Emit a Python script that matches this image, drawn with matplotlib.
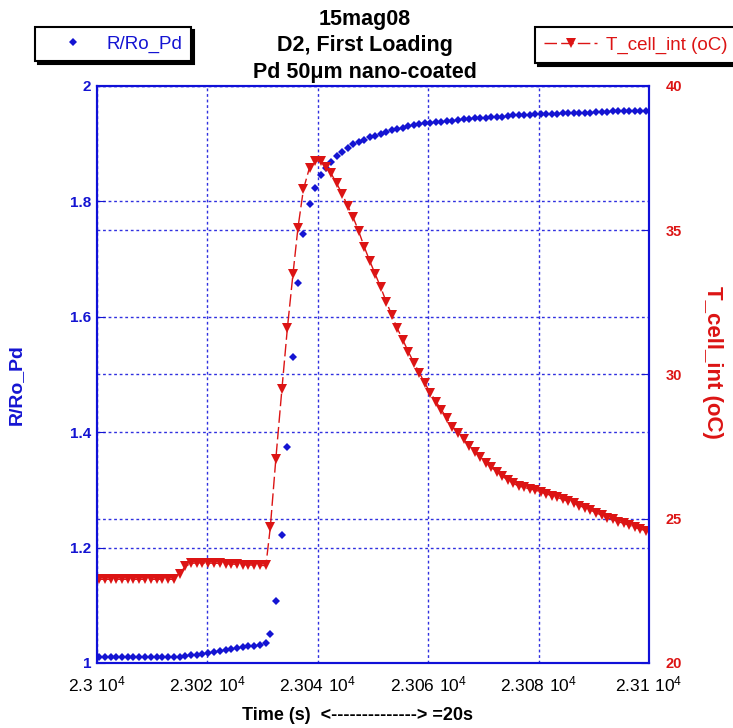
import matplotlib
matplotlib.use("Agg")
import matplotlib.pyplot as plt

plt.rcParams['font.family'] = ['Liberation Sans', 'DejaVu Sans']
plt.rcParams['mathtext.default'] = 'regular'

# time offset from 2.3e4 s
t_rel = [0.4, 1.4, 2.5, 3.5, 4.6, 5.6, 6.6, 7.7, 8.7, 9.8,
         10.8, 11.8, 12.9, 13.9, 15.0, 16.0, 17.0, 18.1, 19.1, 20.2,
         21.2, 22.2, 23.3, 24.3, 25.4, 26.4, 27.4, 28.5, 29.5, 30.6,
         31.4, 32.4, 33.5, 34.5, 35.5, 36.4, 37.4, 38.5, 39.5, 40.5,
         41.4, 42.4, 43.4, 44.4, 45.4, 46.4, 47.4, 48.4, 49.4, 50.4,
         51.4, 52.4, 53.4, 54.4, 55.4, 56.4, 57.4, 58.4, 59.4, 60.4,
         61.4, 62.4, 63.4, 64.4, 65.4, 66.4, 67.4, 68.4, 69.4, 70.4,
         71.4, 72.4, 73.4, 74.4, 75.4, 76.4, 77.4, 78.4, 79.4, 80.4,
         81.4, 82.4, 83.4, 84.4, 85.4, 86.4, 87.4, 88.4, 89.4, 90.4,
         91.4, 92.4, 93.4, 94.4, 95.4, 96.4, 97.4, 98.4, 99.4]

r_ro_pd = [1.011, 1.011, 1.011, 1.011, 1.011, 1.011, 1.011, 1.011, 1.011, 1.011,
           1.011, 1.011, 1.011, 1.011, 1.011, 1.012, 1.013, 1.014, 1.016, 1.017,
           1.019, 1.020, 1.022, 1.024, 1.026, 1.027, 1.029, 1.030, 1.031, 1.034,
           1.050, 1.108, 1.222, 1.374, 1.530, 1.659, 1.743, 1.795, 1.824, 1.845,
           1.858, 1.869, 1.879, 1.886, 1.893, 1.899, 1.903, 1.907, 1.911, 1.914,
           1.917, 1.920, 1.923, 1.926, 1.928, 1.930, 1.932, 1.934, 1.935, 1.936,
           1.937, 1.938, 1.939, 1.940, 1.941, 1.942, 1.943, 1.944, 1.944, 1.945,
           1.946, 1.947, 1.947, 1.948, 1.949, 1.949, 1.950, 1.950, 1.951, 1.951,
           1.952, 1.952, 1.952, 1.953, 1.953, 1.953, 1.954, 1.954, 1.954, 1.955,
           1.955, 1.955, 1.956, 1.956, 1.956, 1.956, 1.957, 1.957, 1.957]

t_cell = [22.9, 22.9, 22.9, 22.9, 22.9, 22.9, 22.9, 22.9, 22.9, 22.9,
          22.9, 22.9, 22.9, 22.9, 23.1, 23.35, 23.45, 23.47, 23.47, 23.46,
          23.46, 23.45, 23.44, 23.43, 23.42, 23.41, 23.40, 23.39, 23.38, 23.38,
          24.70, 27.07, 29.49, 31.62, 33.47, 35.07, 36.42, 37.17, 37.41, 37.39,
          37.20, 36.97, 36.63, 36.26, 35.85, 35.45, 34.97, 34.43, 33.94, 33.48,
          33.02, 32.52, 32.06, 31.60, 31.20, 30.79, 30.41, 30.06, 29.69, 29.37,
          29.06, 28.77, 28.48, 28.19, 27.98, 27.75, 27.52, 27.32, 27.13, 26.94,
          26.78, 26.63, 26.48, 26.34, 26.23, 26.13, 26.09, 26.03, 26.00, 25.92,
          25.86, 25.80, 25.74, 25.67, 25.60, 25.54, 25.45, 25.38, 25.30, 25.21,
          25.12, 25.03, 24.98, 24.90, 24.84, 24.78, 24.70, 24.64, 24.59]

x_ticks = [23000, 23020, 23040, 23060, 23080, 23100]
x_tick_labels = [r'$2.3\ 10^{4}$', r'$2.302\ 10^{4}$', r'$2.304\ 10^{4}$',
                 r'$2.306\ 10^{4}$', r'$2.308\ 10^{4}$', r'$2.31\ 10^{4}$']
left_ticks = [1, 1.2, 1.4, 1.6, 1.8, 2]
left_tick_labels = ['1', '1.2', '1.4', '1.6', '1.8', '2']
right_ticks = [20, 25, 30, 35, 40]

BLUE = '#1414d2'
RED = '#dc1414'
GRID = '#3030e0'

time = [23000 + v for v in t_rel]

fig = plt.figure(figsize=(7.33, 7.28), dpi=100)
ax = fig.add_axes([0.1323, 0.0893, 0.7531, 0.7926])
ax2 = ax.twinx()

l1, = ax.plot(time, r_ro_pd, linestyle='none', marker='D', markersize=4.5,
              color=BLUE, markeredgewidth=0, label='R/Ro_Pd')
l2, = ax2.plot(time, t_cell, linestyle=(0, (9, 3)), linewidth=1, marker='v',
               markersize=7.5, color=RED, markeredgewidth=0,
               label='T_cell_int (oC)')

ax.set_xlim(23000, 23100)
ax.set_ylim(1, 2)
ax2.set_ylim(20, 40)

ax.set_xticks(x_ticks)
ax.set_xticklabels(x_tick_labels, fontsize=12.5)
ax.set_yticks(left_ticks)
ax.set_yticklabels(left_tick_labels, fontsize=11, fontweight='bold', color=BLUE)
ax2.set_yticks(right_ticks)
ax2.set_yticklabels([str(v) for v in right_ticks], fontsize=10.5,
                    fontweight='bold', color=RED)

ax.tick_params(axis='x', direction='in', length=0, pad=8)
ax.tick_params(axis='y', direction='in', length=6, color=BLUE, pad=4)
ax2.tick_params(axis='y', direction='in', length=6, color=BLUE, pad=12)

ax.grid(True, color=GRID, linestyle=(0, (2, 2)), linewidth=1)
ax2.grid(True, axis='y', color=GRID, linestyle=(0, (2, 2)), linewidth=1)

for a in (ax, ax2):
    for s in a.spines.values():
        s.set_color('#1010d8')
        s.set_linewidth(1.5)

# axis titles placed as in the original layout
fig.text(357 / 733, 1 - 715 / 728, 'Time (s)  <--------------> =20s',
         ha='center', va='center', fontsize=13, fontweight='bold')
fig.text(16 / 733, 1 - 385 / 728, 'R/Ro_Pd', rotation=90, ha='center',
         va='center', fontsize=14, fontweight='bold', color=BLUE)
fig.text(712 / 733, 1 - 362 / 728, 'T_cell_int (oC)', rotation=270,
         ha='center', va='center', fontsize=16, fontweight='bold', color=RED)

fig.text(0.498, 0.988, '15mag08\nD2, First Loading\nPd 50\u03bcm nano-coated',
         ha='center', va='top', fontsize=15.5, fontweight='bold',
         linespacing=1.35)

shadow = {'facecolor': 'black', 'edgecolor': 'black', 'alpha': 1}
leg1 = fig.legend(handles=[l1], loc='upper left', bbox_to_anchor=(0.048, 0.963),
                  fontsize=13.5, frameon=True, fancybox=False, shadow=shadow,
                  edgecolor='black', framealpha=1, borderpad=0.45,
                  borderaxespad=0, handlelength=3.1, handletextpad=0.25,
                  labelcolor=BLUE)
leg1.get_frame().set_linewidth(1.5)
leg2 = fig.legend(handles=[l2], loc='upper left', bbox_to_anchor=(0.730, 0.963),
                  fontsize=13.5, frameon=True, fancybox=False, shadow=shadow,
                  edgecolor='black', framealpha=1, borderpad=0.5,
                  borderaxespad=0, handlelength=2.8, handletextpad=0.5,
                  labelcolor=RED)
leg2.get_frame().set_linewidth(1.5)

fig.savefig('out.png', dpi=100)
